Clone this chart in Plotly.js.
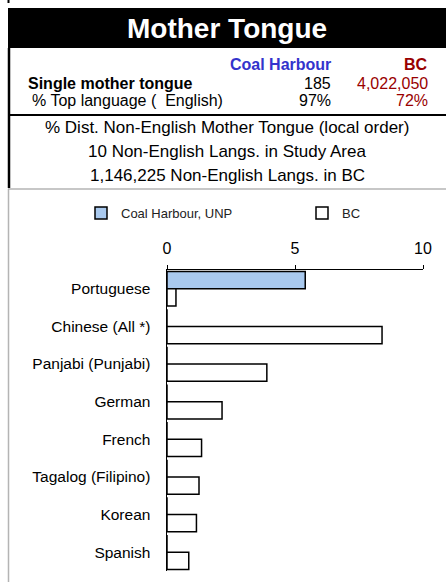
<!DOCTYPE html>
<html>
<head>
<meta charset="utf-8">
<script src="https://cdn.plot.ly/plotly-3.0.1.min.js"></script>
<style>html,body{margin:0;padding:0;background:#fff;}#chart{width:446px;height:582px;}</style>
</head>
<body>
<div id="chart"></div>
<script>
// ---- data ----
const categories = ["Portuguese","Chinese (All *)","Panjabi (Punjabi)","German","French","Tagalog (Filipino)","Korean","Spanish"];
const coalHarbour = [5.4,0,0,0,0,0,0,0];
const bc = [0.35,8.4,3.9,2.15,1.35,1.25,1.15,0.85];
const seriesNames = ["Coal Harbour, UNP","BC"];
const xTicks = [0,5,10];
const headerTitle = "Mother Tongue";
const colHeads = ["Coal Harbour","BC"];
const rowLabels = ["Single mother tongue","% Top language (  English)"];
const colCoal = ["185","97%"];
const colBC = ["4,022,050","72%"];
const boxLines = ["% Dist. Non-English Mother Tongue (local order)","10 Non-English Langs. in Study Area","1,146,225 Non-English Langs. in BC"];

// ---- layout geometry (pixels) ----
const W=446,H=582,L=167,R=23,T=270,B=11;
const pw=W-L-R, ph=H-T-B;
const px=x=>(x-L)/pw;
const py=y=>(H-B-y)/ph;
const FONT="Liberation Sans, Arial, sans-serif";
const RED="#990000", BLUE="#3333cc";

const traces=[
 {type:'bar',orientation:'h',name:seriesNames[0],y:categories,x:coalHarbour,legend:'legend',
  marker:{color:'#a9c9ee',line:{color:'#000',width:1.5}},hoverinfo:'x+y'},
 {type:'bar',orientation:'h',name:seriesNames[1],y:categories,x:bc,legend:'legend2',
  marker:{color:'#ffffff',line:{color:'#000',width:1.5}},hoverinfo:'x+y'}
];

function ann(text,x,y,opts){
  return Object.assign({text:text,xref:'paper',yref:'paper',x:px(x),y:py(y),showarrow:false,
    xanchor:'left',yanchor:'middle',font:{family:FONT,size:16,color:'#000'}},opts||{});
}
const annotations=[
  ann(headerTitle,227,28,{xanchor:'center',font:{family:FONT,size:28,color:'#fff',weight:'bold'}}),
  ann('<b>'+colHeads[0]+'</b>',333,64,{xanchor:'right',font:{family:FONT,size:16,color:BLUE}}),
  ann('<b>'+colHeads[1]+'</b>',430,64,{xanchor:'right',font:{family:FONT,size:16,color:RED}}),
  ann('<b>'+rowLabels[0]+'</b>',26,83,{font:{family:FONT,size:16,color:'#000'}}),
  ann(rowLabels[1],30,100,{font:{family:FONT,size:16,color:'#000'}}),
  ann(colCoal[0],333,83,{xanchor:'right'}),
  ann(colCoal[1],333,100,{xanchor:'right'}),
  ann(colBC[0],430,83,{xanchor:'right',font:{family:FONT,size:16,color:RED}}),
  ann(colBC[1],430,100,{xanchor:'right',font:{family:FONT,size:16,color:RED}}),
  ann(boxLines[0],227,127,{xanchor:'center',font:{family:FONT,size:17,color:'#000'}}),
  ann(boxLines[1],227,151,{xanchor:'center',font:{family:FONT,size:17,color:'#000'}}),
  ann(boxLines[2],227,175,{xanchor:'center',font:{family:FONT,size:17,color:'#000'}})
];
const shapes=[
  {type:'rect',xref:'paper',yref:'paper',x0:px(8),x1:px(446),y0:py(8),y1:py(48),fillcolor:'#000',line:{width:0},layer:'below'},
  {type:'line',xref:'paper',yref:'paper',x0:px(8.5),x1:px(8.5),y0:py(0),y1:py(3),line:{color:'#000',width:2}},
  {type:'line',xref:'paper',yref:'paper',x0:px(9),x1:px(9),y0:py(48),y1:py(188),line:{color:'#000',width:2.5}},
  {type:'line',xref:'paper',yref:'paper',x0:px(8),x1:px(446),y0:py(115),y1:py(115),line:{color:'#000',width:2}},
  {type:'line',xref:'paper',yref:'paper',x0:px(8),x1:px(446),y0:py(189),y1:py(189),line:{color:'#b4b4b4',width:1.5}},
  {type:'line',xref:'paper',yref:'paper',x0:px(8.5),x1:px(8.5),y0:py(189),y1:py(582),line:{color:'#b4b4b4',width:1.5}}
];
const legBase={orientation:'h',xanchor:'left',y:py(213),yanchor:'middle',
    font:{family:FONT,size:13,color:'#222'},bgcolor:'rgba(0,0,0,0)',borderwidth:0};

const layout={
  width:W,height:H,margin:{l:L,r:R,t:T,b:B,pad:0},
  paper_bgcolor:'#fff',plot_bgcolor:'#fff',
  font:{family:FONT,color:'#000'},
  barmode:'group',bargap:0.08,bargroupgap:0,
  showlegend:true,
  legend:Object.assign({},legBase,{x:px(81)}),
  legend2:Object.assign({},legBase,{x:px(302)}),
  xaxis:{side:'top',range:[0,10],tickvals:xTicks,ticktext:xTicks.map(String),
    showline:true,linecolor:'#000',linewidth:1.5,ticks:'outside',ticklen:4,tickcolor:'#000',
    showgrid:false,zeroline:false,tickfont:{family:FONT,size:16,color:'#000'},ticklabelstandoff:4,fixedrange:true},
  yaxis:{type:'category',autorange:'reversed',showline:true,linecolor:'#000',linewidth:1.5,
    ticks:'',showgrid:false,zeroline:false,tickfont:{family:FONT,size:15.5,color:'#000'},ticklabelstandoff:12,fixedrange:true},
  annotations:annotations,shapes:shapes
};
Plotly.newPlot('chart',traces,layout,{displayModeBar:false,staticPlot:true});
</script>
</body>
</html>
